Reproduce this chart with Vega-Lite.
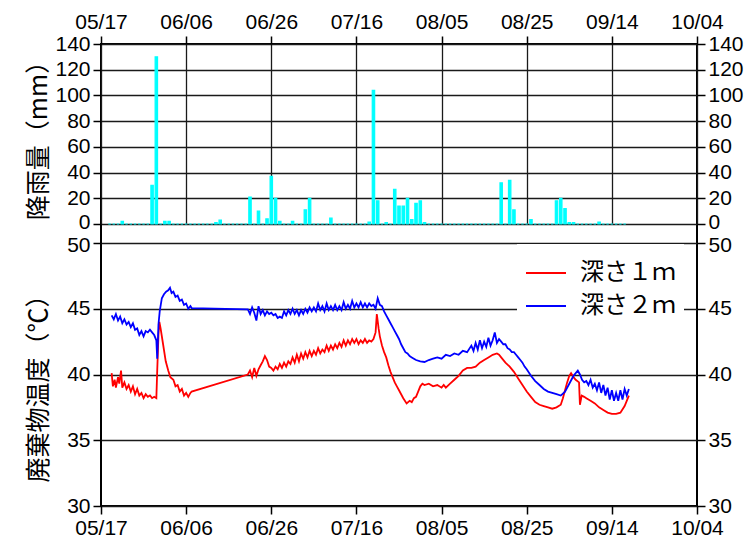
{
 "$schema": "https://vega.github.io/schema/vega-lite/v6.json",
 "width": 596, "height": 462,
 "autosize": "none",
 "padding": {"left": 101, "top": 44, "right": 50, "bottom": 35},
 "background": "white",
 "config": {
  "view": {"stroke": "#000000", "strokeWidth": 2},
  "axis": {"domain": false, "grid": false, "gridColor": "#1a1a1a", "gridWidth": 1.3, "gridOpacity": 1, "tickColor": "#000000", "tickWidth": 1.5, "tickSize": 8, "labelFont": "Liberation Sans", "labelFontSize": 21, "labelColor": "#000000", "labelPadding": 3, "labelOverlap": false, "titleFont": "Noto Sans CJK JP", "titleFontSize": 25, "titleFontWeight": "normal", "titleColor": "#000000"}
 },
 "datasets": {
  "rain": [
   {"d":"2020-05-19","r":0},{"d":"2020-05-20","r":0},{"d":"2020-05-21","r":0},{"d":"2020-05-22","r":2},{"d":"2020-05-23","r":0},{"d":"2020-05-24","r":0},{"d":"2020-05-25","r":0},{"d":"2020-05-26","r":0},{"d":"2020-05-27","r":0},{"d":"2020-05-28","r":0},{"d":"2020-05-29","r":30},{"d":"2020-05-30","r":130},{"d":"2020-05-31","r":0},
   {"d":"2020-06-01","r":2},{"d":"2020-06-02","r":2},{"d":"2020-06-03","r":0},{"d":"2020-06-04","r":0},{"d":"2020-06-05","r":0},{"d":"2020-06-06","r":0},{"d":"2020-06-07","r":0},{"d":"2020-06-08","r":0},{"d":"2020-06-09","r":0},{"d":"2020-06-10","r":0},{"d":"2020-06-11","r":0},{"d":"2020-06-12","r":0},{"d":"2020-06-13","r":1},{"d":"2020-06-14","r":3},{"d":"2020-06-15","r":0},{"d":"2020-06-16","r":0},{"d":"2020-06-17","r":0},{"d":"2020-06-18","r":0},{"d":"2020-06-19","r":0},{"d":"2020-06-20","r":0},{"d":"2020-06-21","r":21},{"d":"2020-06-22","r":0},{"d":"2020-06-23","r":10},{"d":"2020-06-24","r":0},{"d":"2020-06-25","r":4},{"d":"2020-06-26","r":37},{"d":"2020-06-27","r":20},{"d":"2020-06-28","r":2},{"d":"2020-06-29","r":0},{"d":"2020-06-30","r":0},
   {"d":"2020-07-01","r":2},{"d":"2020-07-02","r":0},{"d":"2020-07-03","r":0},{"d":"2020-07-04","r":11},{"d":"2020-07-05","r":20},{"d":"2020-07-06","r":0},{"d":"2020-07-07","r":0},{"d":"2020-07-08","r":0},{"d":"2020-07-09","r":0},{"d":"2020-07-10","r":4.5},{"d":"2020-07-11","r":0},{"d":"2020-07-12","r":0},{"d":"2020-07-13","r":0},{"d":"2020-07-14","r":0},{"d":"2020-07-15","r":0},{"d":"2020-07-16","r":0},{"d":"2020-07-17","r":0},{"d":"2020-07-18","r":0},{"d":"2020-07-19","r":1.5},{"d":"2020-07-20","r":104},{"d":"2020-07-21","r":18},{"d":"2020-07-22","r":0},{"d":"2020-07-23","r":1},{"d":"2020-07-24","r":0},{"d":"2020-07-25","r":27},{"d":"2020-07-26","r":14},{"d":"2020-07-27","r":14},{"d":"2020-07-28","r":20},{"d":"2020-07-29","r":3.5},{"d":"2020-07-30","r":16},{"d":"2020-07-31","r":18},
   {"d":"2020-08-01","r":1},{"d":"2020-08-02","r":0},{"d":"2020-08-03","r":0},{"d":"2020-08-04","r":0},{"d":"2020-08-05","r":0},{"d":"2020-08-06","r":0},{"d":"2020-08-07","r":0},{"d":"2020-08-08","r":0},{"d":"2020-08-09","r":0},{"d":"2020-08-10","r":0},{"d":"2020-08-11","r":0},{"d":"2020-08-12","r":0},{"d":"2020-08-13","r":0},{"d":"2020-08-14","r":0},{"d":"2020-08-15","r":0},{"d":"2020-08-16","r":0},{"d":"2020-08-17","r":0},{"d":"2020-08-18","r":0},{"d":"2020-08-19","r":32},{"d":"2020-08-20","r":0},{"d":"2020-08-21","r":34},{"d":"2020-08-22","r":11},{"d":"2020-08-23","r":0},{"d":"2020-08-24","r":0},{"d":"2020-08-25","r":0},{"d":"2020-08-26","r":3.5},{"d":"2020-08-27","r":0},{"d":"2020-08-28","r":0},{"d":"2020-08-29","r":0},{"d":"2020-08-30","r":0},{"d":"2020-08-31","r":0},
   {"d":"2020-09-01","r":18},{"d":"2020-09-02","r":20},{"d":"2020-09-03","r":12},{"d":"2020-09-04","r":1},{"d":"2020-09-05","r":1},{"d":"2020-09-06","r":0},{"d":"2020-09-07","r":0},{"d":"2020-09-08","r":0},{"d":"2020-09-09","r":0},{"d":"2020-09-10","r":0},{"d":"2020-09-11","r":1.5},{"d":"2020-09-12","r":0},{"d":"2020-09-13","r":0},{"d":"2020-09-14","r":0},{"d":"2020-09-15","r":0},{"d":"2020-09-16","r":0},{"d":"2020-09-17","r":0}
  ],
  "temp": [
   {"s":"深さ１ｍ","t":"2020-05-19T12:00Z","v":40.1},{"s":"深さ１ｍ","t":"2020-05-19T19:00Z","v":39.1},{"s":"深さ１ｍ","t":"2020-05-20T05:00Z","v":39.6},{"s":"深さ１ｍ","t":"2020-05-20T12:00Z","v":39.0},{"s":"深さ１ｍ","t":"2020-05-21T00:00Z","v":39.8},{"s":"深さ１ｍ","t":"2020-05-21T07:00Z","v":39.3},{"s":"深さ１ｍ","t":"2020-05-21T17:00Z","v":40.3},{"s":"深さ１ｍ","t":"2020-05-22T00:00Z","v":39.0},{"s":"深さ１ｍ","t":"2020-05-22T12:00Z","v":39.4},{"s":"深さ１ｍ","t":"2020-05-23T00:00Z","v":38.9},{"s":"深さ１ｍ","t":"2020-05-23T12:00Z","v":39.2},{"s":"深さ１ｍ","t":"2020-05-24T00:00Z","v":38.7},{"s":"深さ１ｍ","t":"2020-05-24T12:00Z","v":39.1},{"s":"深さ１ｍ","t":"2020-05-25T00:00Z","v":38.5},{"s":"深さ１ｍ","t":"2020-05-25T12:00Z","v":38.9},{"s":"深さ１ｍ","t":"2020-05-26T00:00Z","v":38.4},{"s":"深さ１ｍ","t":"2020-05-26T12:00Z","v":38.6},{"s":"深さ１ｍ","t":"2020-05-27T00:00Z","v":38.2},{"s":"深さ１ｍ","t":"2020-05-27T12:00Z","v":38.5},{"s":"深さ１ｍ","t":"2020-05-28T00:00Z","v":38.3},{"s":"深さ１ｍ","t":"2020-05-28T12:00Z","v":38.4},{"s":"深さ１ｍ","t":"2020-05-29T00:00Z","v":38.2},{"s":"深さ１ｍ","t":"2020-05-29T12:00Z","v":38.3},{"s":"深さ１ｍ","t":"2020-05-30T00:00Z","v":38.2},{"s":"深さ１ｍ","t":"2020-05-30T05:00Z","v":40.3},{"s":"深さ１ｍ","t":"2020-05-30T12:00Z","v":43.0},{"s":"深さ１ｍ","t":"2020-05-30T17:00Z","v":44.0},{"s":"深さ１ｍ","t":"2020-05-31T00:00Z","v":43.5},{"s":"深さ１ｍ","t":"2020-05-31T14:00Z","v":42.3},{"s":"深さ１ｍ","t":"2020-06-01T05:00Z","v":41.0},{"s":"深さ１ｍ","t":"2020-06-01T19:00Z","v":40.3},{"s":"深さ１ｍ","t":"2020-06-02T07:00Z","v":39.8},{"s":"深さ１ｍ","t":"2020-06-03T00:00Z","v":39.6},{"s":"深さ１ｍ","t":"2020-06-03T12:00Z","v":39.1},{"s":"深さ１ｍ","t":"2020-06-04T00:00Z","v":39.2},{"s":"深さ１ｍ","t":"2020-06-04T12:00Z","v":38.7},{"s":"深さ１ｍ","t":"2020-06-05T00:00Z","v":38.9},{"s":"深さ１ｍ","t":"2020-06-05T12:00Z","v":38.4},{"s":"深さ１ｍ","t":"2020-06-06T00:00Z","v":38.6},{"s":"深さ１ｍ","t":"2020-06-06T12:00Z","v":38.3},{"s":"深さ１ｍ","t":"2020-06-07T00:00Z","v":38.6},{"s":"深さ１ｍ","t":"2020-06-07T07:00Z","v":38.7},
   {"s":"深さ１ｍ","t":"2020-06-20T12:00Z","v":40.0},{"s":"深さ１ｍ","t":"2020-06-21T00:00Z","v":40.3},{"s":"深さ１ｍ","t":"2020-06-21T12:00Z","v":39.8},{"s":"深さ１ｍ","t":"2020-06-22T00:00Z","v":40.5},{"s":"深さ１ｍ","t":"2020-06-22T12:00Z","v":39.9},{"s":"深さ１ｍ","t":"2020-06-23T00:00Z","v":40.4},{"s":"深さ１ｍ","t":"2020-06-23T12:00Z","v":40.7},{"s":"深さ１ｍ","t":"2020-06-24T00:00Z","v":41.0},{"s":"深さ１ｍ","t":"2020-06-24T12:00Z","v":41.4},{"s":"深さ１ｍ","t":"2020-06-25T00:00Z","v":41.1},{"s":"深さ１ｍ","t":"2020-06-25T12:00Z","v":40.6},{"s":"深さ１ｍ","t":"2020-06-26T00:00Z","v":40.5},{"s":"深さ１ｍ","t":"2020-06-26T12:00Z","v":40.3},{"s":"深さ１ｍ","t":"2020-06-27T00:00Z","v":40.6},{"s":"深さ１ｍ","t":"2020-06-27T12:00Z","v":40.4},{"s":"深さ１ｍ","t":"2020-06-28T00:00Z","v":40.8},{"s":"深さ１ｍ","t":"2020-06-28T12:00Z","v":40.5},{"s":"深さ１ｍ","t":"2020-06-29T00:00Z","v":40.9},{"s":"深さ１ｍ","t":"2020-06-29T12:00Z","v":40.6},{"s":"深さ１ｍ","t":"2020-06-30T00:00Z","v":41.0},{"s":"深さ１ｍ","t":"2020-06-30T12:00Z","v":40.8},
   {"s":"深さ１ｍ","t":"2020-07-01T00:00Z","v":41.3},{"s":"深さ１ｍ","t":"2020-07-01T12:00Z","v":40.9},{"s":"深さ１ｍ","t":"2020-07-02T00:00Z","v":41.5},{"s":"深さ１ｍ","t":"2020-07-02T12:00Z","v":41.0},{"s":"深さ１ｍ","t":"2020-07-03T00:00Z","v":41.6},{"s":"深さ１ｍ","t":"2020-07-03T12:00Z","v":41.2},{"s":"深さ１ｍ","t":"2020-07-04T00:00Z","v":41.7},{"s":"深さ１ｍ","t":"2020-07-04T12:00Z","v":41.3},{"s":"深さ１ｍ","t":"2020-07-05T00:00Z","v":41.8},{"s":"深さ１ｍ","t":"2020-07-05T12:00Z","v":41.4},{"s":"深さ１ｍ","t":"2020-07-06T00:00Z","v":41.8},{"s":"深さ１ｍ","t":"2020-07-06T12:00Z","v":41.5},{"s":"深さ１ｍ","t":"2020-07-07T00:00Z","v":42.0},{"s":"深さ１ｍ","t":"2020-07-07T12:00Z","v":41.6},{"s":"深さ１ｍ","t":"2020-07-08T00:00Z","v":41.9},{"s":"深さ１ｍ","t":"2020-07-08T12:00Z","v":41.7},{"s":"深さ１ｍ","t":"2020-07-09T00:00Z","v":42.2},{"s":"深さ１ｍ","t":"2020-07-09T12:00Z","v":41.8},{"s":"深さ１ｍ","t":"2020-07-10T00:00Z","v":42.2},{"s":"深さ１ｍ","t":"2020-07-10T12:00Z","v":41.9},{"s":"深さ１ｍ","t":"2020-07-11T00:00Z","v":42.3},{"s":"深さ１ｍ","t":"2020-07-11T12:00Z","v":42.0},{"s":"深さ１ｍ","t":"2020-07-12T00:00Z","v":42.4},{"s":"深さ１ｍ","t":"2020-07-12T12:00Z","v":42.1},{"s":"深さ１ｍ","t":"2020-07-13T00:00Z","v":42.6},{"s":"深さ１ｍ","t":"2020-07-13T12:00Z","v":42.2},{"s":"深さ１ｍ","t":"2020-07-14T00:00Z","v":42.6},{"s":"深さ１ｍ","t":"2020-07-14T12:00Z","v":42.3},{"s":"深さ１ｍ","t":"2020-07-15T00:00Z","v":42.7},{"s":"深さ１ｍ","t":"2020-07-15T12:00Z","v":42.4},{"s":"深さ１ｍ","t":"2020-07-16T00:00Z","v":42.7},{"s":"深さ１ｍ","t":"2020-07-16T12:00Z","v":42.3},{"s":"深さ１ｍ","t":"2020-07-17T00:00Z","v":42.6},{"s":"深さ１ｍ","t":"2020-07-17T12:00Z","v":42.4},{"s":"深さ１ｍ","t":"2020-07-18T00:00Z","v":42.7},{"s":"深さ１ｍ","t":"2020-07-18T12:00Z","v":42.4},{"s":"深さ１ｍ","t":"2020-07-19T00:00Z","v":42.6},{"s":"深さ１ｍ","t":"2020-07-19T12:00Z","v":42.5},{"s":"深さ１ｍ","t":"2020-07-20T00:00Z","v":42.7},{"s":"深さ１ｍ","t":"2020-07-20T12:00Z","v":43.2},{"s":"深さ１ｍ","t":"2020-07-20T19:00Z","v":44.6},{"s":"深さ１ｍ","t":"2020-07-21T05:00Z","v":43.5},{"s":"深さ１ｍ","t":"2020-07-21T12:00Z","v":42.9},{"s":"深さ１ｍ","t":"2020-07-22T00:00Z","v":42.2},{"s":"深さ１ｍ","t":"2020-07-22T12:00Z","v":41.7},{"s":"深さ１ｍ","t":"2020-07-23T00:00Z","v":41.3},{"s":"深さ１ｍ","t":"2020-07-23T12:00Z","v":40.7},{"s":"深さ１ｍ","t":"2020-07-24T00:00Z","v":40.2},{"s":"深さ１ｍ","t":"2020-07-24T12:00Z","v":39.8},{"s":"深さ１ｍ","t":"2020-07-25T00:00Z","v":39.4},{"s":"深さ１ｍ","t":"2020-07-25T12:00Z","v":39.1},{"s":"深さ１ｍ","t":"2020-07-26T00:00Z","v":38.8},{"s":"深さ１ｍ","t":"2020-07-26T12:00Z","v":38.5},{"s":"深さ１ｍ","t":"2020-07-27T00:00Z","v":38.2},{"s":"深さ１ｍ","t":"2020-07-27T19:00Z","v":37.8},{"s":"深さ１ｍ","t":"2020-07-28T12:00Z","v":38.0},{"s":"深さ１ｍ","t":"2020-07-29T00:00Z","v":37.9},{"s":"深さ１ｍ","t":"2020-07-29T12:00Z","v":38.2},{"s":"深さ１ｍ","t":"2020-07-30T00:00Z","v":38.3},{"s":"深さ１ｍ","t":"2020-07-30T12:00Z","v":38.7},{"s":"深さ１ｍ","t":"2020-07-31T00:00Z","v":39.1},{"s":"深さ１ｍ","t":"2020-07-31T12:00Z","v":39.3},
   {"s":"深さ１ｍ","t":"2020-08-01T00:00Z","v":39.2},{"s":"深さ１ｍ","t":"2020-08-02T00:00Z","v":39.3},{"s":"深さ１ｍ","t":"2020-08-03T00:00Z","v":39.1},{"s":"深さ１ｍ","t":"2020-08-04T00:00Z","v":39.2},{"s":"深さ１ｍ","t":"2020-08-05T00:00Z","v":39.0},{"s":"深さ１ｍ","t":"2020-08-05T12:00Z","v":39.2},{"s":"深さ１ｍ","t":"2020-08-06T00:00Z","v":39.0},{"s":"深さ１ｍ","t":"2020-08-07T00:00Z","v":39.3},{"s":"深さ１ｍ","t":"2020-08-08T00:00Z","v":39.6},{"s":"深さ１ｍ","t":"2020-08-09T00:00Z","v":39.9},{"s":"深さ１ｍ","t":"2020-08-10T00:00Z","v":40.3},{"s":"深さ１ｍ","t":"2020-08-11T00:00Z","v":40.5},{"s":"深さ１ｍ","t":"2020-08-12T00:00Z","v":40.5},{"s":"深さ１ｍ","t":"2020-08-13T00:00Z","v":40.6},{"s":"深さ１ｍ","t":"2020-08-14T00:00Z","v":40.9},{"s":"深さ１ｍ","t":"2020-08-15T00:00Z","v":41.1},{"s":"深さ１ｍ","t":"2020-08-16T00:00Z","v":41.3},{"s":"深さ１ｍ","t":"2020-08-17T00:00Z","v":41.5},{"s":"深さ１ｍ","t":"2020-08-18T00:00Z","v":41.6},{"s":"深さ１ｍ","t":"2020-08-18T12:00Z","v":41.5},{"s":"深さ１ｍ","t":"2020-08-19T00:00Z","v":41.3},{"s":"深さ１ｍ","t":"2020-08-20T00:00Z","v":40.9},{"s":"深さ１ｍ","t":"2020-08-21T00:00Z","v":40.6},{"s":"深さ１ｍ","t":"2020-08-22T00:00Z","v":40.2},{"s":"深さ１ｍ","t":"2020-08-23T00:00Z","v":39.7},{"s":"深さ１ｍ","t":"2020-08-24T00:00Z","v":39.2},{"s":"深さ１ｍ","t":"2020-08-25T00:00Z","v":38.7},{"s":"深さ１ｍ","t":"2020-08-26T00:00Z","v":38.3},{"s":"深さ１ｍ","t":"2020-08-27T00:00Z","v":37.9},{"s":"深さ１ｍ","t":"2020-08-28T00:00Z","v":37.7},{"s":"深さ１ｍ","t":"2020-08-29T00:00Z","v":37.6},{"s":"深さ１ｍ","t":"2020-08-30T00:00Z","v":37.5},{"s":"深さ１ｍ","t":"2020-08-31T00:00Z","v":37.4},
   {"s":"深さ１ｍ","t":"2020-09-01T00:00Z","v":37.5},{"s":"深さ１ｍ","t":"2020-09-02T00:00Z","v":37.7},{"s":"深さ１ｍ","t":"2020-09-02T12:00Z","v":38.2},{"s":"深さ１ｍ","t":"2020-09-03T00:00Z","v":38.8},{"s":"深さ１ｍ","t":"2020-09-03T12:00Z","v":39.4},{"s":"深さ１ｍ","t":"2020-09-04T00:00Z","v":39.9},{"s":"深さ１ｍ","t":"2020-09-04T10:00Z","v":40.1},{"s":"深さ１ｍ","t":"2020-09-05T00:00Z","v":39.8},{"s":"深さ１ｍ","t":"2020-09-05T12:00Z","v":39.6},{"s":"深さ１ｍ","t":"2020-09-06T07:00Z","v":39.4},{"s":"深さ１ｍ","t":"2020-09-06T12:00Z","v":37.7},{"s":"深さ１ｍ","t":"2020-09-06T22:00Z","v":38.4},{"s":"深さ１ｍ","t":"2020-09-07T12:00Z","v":38.3},{"s":"深さ１ｍ","t":"2020-09-08T00:00Z","v":38.2},{"s":"深さ１ｍ","t":"2020-09-09T00:00Z","v":38.0},{"s":"深さ１ｍ","t":"2020-09-10T00:00Z","v":37.8},{"s":"深さ１ｍ","t":"2020-09-11T00:00Z","v":37.5},{"s":"深さ１ｍ","t":"2020-09-12T00:00Z","v":37.3},{"s":"深さ１ｍ","t":"2020-09-13T00:00Z","v":37.1},{"s":"深さ１ｍ","t":"2020-09-14T00:00Z","v":37.0},{"s":"深さ１ｍ","t":"2020-09-15T00:00Z","v":37.0},{"s":"深さ１ｍ","t":"2020-09-16T00:00Z","v":37.1},{"s":"深さ１ｍ","t":"2020-09-17T00:00Z","v":37.6},{"s":"深さ１ｍ","t":"2020-09-17T12:00Z","v":38.0},{"s":"深さ１ｍ","t":"2020-09-18T00:00Z","v":38.4},
   {"s":"深さ２ｍ","t":"2020-05-19T12:00Z","v":44.5},{"s":"深さ２ｍ","t":"2020-05-20T00:00Z","v":44.2},{"s":"深さ２ｍ","t":"2020-05-20T12:00Z","v":44.6},{"s":"深さ２ｍ","t":"2020-05-21T00:00Z","v":44.1},{"s":"深さ２ｍ","t":"2020-05-21T12:00Z","v":44.4},{"s":"深さ２ｍ","t":"2020-05-22T00:00Z","v":43.9},{"s":"深さ２ｍ","t":"2020-05-22T12:00Z","v":44.2},{"s":"深さ２ｍ","t":"2020-05-23T00:00Z","v":43.8},{"s":"深さ２ｍ","t":"2020-05-23T12:00Z","v":44.0},{"s":"深さ２ｍ","t":"2020-05-24T00:00Z","v":43.6},{"s":"深さ２ｍ","t":"2020-05-24T12:00Z","v":43.9},{"s":"深さ２ｍ","t":"2020-05-25T00:00Z","v":43.4},{"s":"深さ２ｍ","t":"2020-05-25T12:00Z","v":43.5},{"s":"深さ２ｍ","t":"2020-05-26T00:00Z","v":43.0},{"s":"深さ２ｍ","t":"2020-05-26T12:00Z","v":43.3},{"s":"深さ２ｍ","t":"2020-05-27T00:00Z","v":42.9},{"s":"深さ２ｍ","t":"2020-05-27T12:00Z","v":43.3},{"s":"深さ２ｍ","t":"2020-05-28T00:00Z","v":43.2},{"s":"深さ２ｍ","t":"2020-05-28T12:00Z","v":43.4},{"s":"深さ２ｍ","t":"2020-05-29T00:00Z","v":43.2},{"s":"深さ２ｍ","t":"2020-05-29T12:00Z","v":43.0},{"s":"深さ２ｍ","t":"2020-05-30T00:00Z","v":42.6},{"s":"深さ２ｍ","t":"2020-05-30T05:00Z","v":41.2},{"s":"深さ２ｍ","t":"2020-05-30T12:00Z","v":43.8},{"s":"深さ２ｍ","t":"2020-05-30T19:00Z","v":44.8},{"s":"深さ２ｍ","t":"2020-05-31T07:00Z","v":45.8},{"s":"深さ２ｍ","t":"2020-05-31T19:00Z","v":46.1},{"s":"深さ２ｍ","t":"2020-06-01T07:00Z","v":46.3},{"s":"深さ２ｍ","t":"2020-06-01T19:00Z","v":46.4},{"s":"深さ２ｍ","t":"2020-06-02T05:00Z","v":46.6},{"s":"深さ２ｍ","t":"2020-06-02T14:00Z","v":46.2},{"s":"深さ２ｍ","t":"2020-06-03T00:00Z","v":46.3},{"s":"深さ２ｍ","t":"2020-06-03T12:00Z","v":45.9},{"s":"深さ２ｍ","t":"2020-06-04T00:00Z","v":46.0},{"s":"深さ２ｍ","t":"2020-06-04T12:00Z","v":45.6},{"s":"深さ２ｍ","t":"2020-06-05T00:00Z","v":45.7},{"s":"深さ２ｍ","t":"2020-06-05T12:00Z","v":45.3},{"s":"深さ２ｍ","t":"2020-06-06T00:00Z","v":45.4},{"s":"深さ２ｍ","t":"2020-06-06T12:00Z","v":45.0},{"s":"深さ２ｍ","t":"2020-06-07T00:00Z","v":45.2},{"s":"深さ２ｍ","t":"2020-06-07T07:00Z","v":45.05},
   {"s":"深さ２ｍ","t":"2020-06-20T12:00Z","v":44.95},{"s":"深さ２ｍ","t":"2020-06-21T00:00Z","v":44.6},{"s":"深さ２ｍ","t":"2020-06-21T12:00Z","v":45.1},{"s":"深さ２ｍ","t":"2020-06-22T00:00Z","v":44.7},{"s":"深さ２ｍ","t":"2020-06-22T12:00Z","v":44.1},{"s":"深さ２ｍ","t":"2020-06-23T00:00Z","v":45.2},{"s":"深さ２ｍ","t":"2020-06-23T12:00Z","v":44.6},{"s":"深さ２ｍ","t":"2020-06-24T00:00Z","v":44.9},{"s":"深さ２ｍ","t":"2020-06-24T12:00Z","v":44.5},{"s":"深さ２ｍ","t":"2020-06-25T00:00Z","v":44.8},{"s":"深さ２ｍ","t":"2020-06-25T12:00Z","v":44.6},{"s":"深さ２ｍ","t":"2020-06-26T00:00Z","v":44.7},{"s":"深さ２ｍ","t":"2020-06-26T12:00Z","v":44.5},{"s":"深さ２ｍ","t":"2020-06-27T00:00Z","v":44.6},{"s":"深さ２ｍ","t":"2020-06-27T12:00Z","v":44.3},{"s":"深さ２ｍ","t":"2020-06-28T00:00Z","v":44.4},{"s":"深さ２ｍ","t":"2020-06-28T12:00Z","v":44.3},{"s":"深さ２ｍ","t":"2020-06-29T00:00Z","v":44.8},{"s":"深さ２ｍ","t":"2020-06-29T12:00Z","v":44.5},{"s":"深さ２ｍ","t":"2020-06-30T00:00Z","v":44.9},{"s":"深さ２ｍ","t":"2020-06-30T12:00Z","v":44.6},
   {"s":"深さ２ｍ","t":"2020-07-01T00:00Z","v":45.0},{"s":"深さ２ｍ","t":"2020-07-01T12:00Z","v":44.6},{"s":"深さ２ｍ","t":"2020-07-02T00:00Z","v":44.9},{"s":"深さ２ｍ","t":"2020-07-02T12:00Z","v":44.5},{"s":"深さ２ｍ","t":"2020-07-03T00:00Z","v":44.9},{"s":"深さ２ｍ","t":"2020-07-03T12:00Z","v":44.6},{"s":"深さ２ｍ","t":"2020-07-04T00:00Z","v":45.0},{"s":"深さ２ｍ","t":"2020-07-04T12:00Z","v":44.7},{"s":"深さ２ｍ","t":"2020-07-05T00:00Z","v":45.1},{"s":"深さ２ｍ","t":"2020-07-05T12:00Z","v":44.8},{"s":"深さ２ｍ","t":"2020-07-06T00:00Z","v":45.1},{"s":"深さ２ｍ","t":"2020-07-06T12:00Z","v":44.8},{"s":"深さ２ｍ","t":"2020-07-07T00:00Z","v":45.4},{"s":"深さ２ｍ","t":"2020-07-07T12:00Z","v":44.9},{"s":"深さ２ｍ","t":"2020-07-08T00:00Z","v":45.2},{"s":"深さ２ｍ","t":"2020-07-08T12:00Z","v":44.8},{"s":"深さ２ｍ","t":"2020-07-09T00:00Z","v":45.4},{"s":"深さ２ｍ","t":"2020-07-09T12:00Z","v":44.9},{"s":"深さ２ｍ","t":"2020-07-10T00:00Z","v":45.2},{"s":"深さ２ｍ","t":"2020-07-10T12:00Z","v":44.9},{"s":"深さ２ｍ","t":"2020-07-11T00:00Z","v":45.3},{"s":"深さ２ｍ","t":"2020-07-11T12:00Z","v":44.9},{"s":"深さ２ｍ","t":"2020-07-12T00:00Z","v":45.2},{"s":"深さ２ｍ","t":"2020-07-12T12:00Z","v":44.9},{"s":"深さ２ｍ","t":"2020-07-13T00:00Z","v":45.5},{"s":"深さ２ｍ","t":"2020-07-13T12:00Z","v":45.0},{"s":"深さ２ｍ","t":"2020-07-14T00:00Z","v":45.3},{"s":"深さ２ｍ","t":"2020-07-14T12:00Z","v":45.0},{"s":"深さ２ｍ","t":"2020-07-15T00:00Z","v":45.6},{"s":"深さ２ｍ","t":"2020-07-15T12:00Z","v":45.1},{"s":"深さ２ｍ","t":"2020-07-16T00:00Z","v":45.4},{"s":"深さ２ｍ","t":"2020-07-16T12:00Z","v":45.1},{"s":"深さ２ｍ","t":"2020-07-17T00:00Z","v":45.5},{"s":"深さ２ｍ","t":"2020-07-17T12:00Z","v":45.1},{"s":"深さ２ｍ","t":"2020-07-18T00:00Z","v":45.4},{"s":"深さ２ｍ","t":"2020-07-18T12:00Z","v":45.1},{"s":"深さ２ｍ","t":"2020-07-19T00:00Z","v":45.4},{"s":"深さ２ｍ","t":"2020-07-19T12:00Z","v":45.2},{"s":"深さ２ｍ","t":"2020-07-20T00:00Z","v":45.3},{"s":"深さ２ｍ","t":"2020-07-20T12:00Z","v":45.0},{"s":"深さ２ｍ","t":"2020-07-21T00:00Z","v":45.8},{"s":"深さ２ｍ","t":"2020-07-21T12:00Z","v":45.3},{"s":"深さ２ｍ","t":"2020-07-22T00:00Z","v":45.2},{"s":"深さ２ｍ","t":"2020-07-22T12:00Z","v":44.8},{"s":"深さ２ｍ","t":"2020-07-23T00:00Z","v":44.5},{"s":"深さ２ｍ","t":"2020-07-23T12:00Z","v":44.2},{"s":"深さ２ｍ","t":"2020-07-24T00:00Z","v":43.9},{"s":"深さ２ｍ","t":"2020-07-24T12:00Z","v":43.6},{"s":"深さ２ｍ","t":"2020-07-25T00:00Z","v":43.3},{"s":"深さ２ｍ","t":"2020-07-25T12:00Z","v":43.0},{"s":"深さ２ｍ","t":"2020-07-26T00:00Z","v":42.7},{"s":"深さ２ｍ","t":"2020-07-26T12:00Z","v":42.3},{"s":"深さ２ｍ","t":"2020-07-27T00:00Z","v":42.0},{"s":"深さ２ｍ","t":"2020-07-27T12:00Z","v":41.7},{"s":"深さ２ｍ","t":"2020-07-28T00:00Z","v":41.6},{"s":"深さ２ｍ","t":"2020-07-28T12:00Z","v":41.4},{"s":"深さ２ｍ","t":"2020-07-29T00:00Z","v":41.3},{"s":"深さ２ｍ","t":"2020-07-29T12:00Z","v":41.2},{"s":"深さ２ｍ","t":"2020-07-30T00:00Z","v":41.1},{"s":"深さ２ｍ","t":"2020-07-31T00:00Z","v":41.0},
   {"s":"深さ２ｍ","t":"2020-08-01T00:00Z","v":40.95},{"s":"深さ２ｍ","t":"2020-08-02T00:00Z","v":41.1},{"s":"深さ２ｍ","t":"2020-08-03T00:00Z","v":41.2},{"s":"深さ２ｍ","t":"2020-08-04T00:00Z","v":41.3},{"s":"深さ２ｍ","t":"2020-08-05T00:00Z","v":41.2},{"s":"深さ２ｍ","t":"2020-08-06T00:00Z","v":41.5},{"s":"深さ２ｍ","t":"2020-08-07T00:00Z","v":41.4},{"s":"深さ２ｍ","t":"2020-08-08T00:00Z","v":41.6},{"s":"深さ２ｍ","t":"2020-08-09T00:00Z","v":41.5},{"s":"深さ２ｍ","t":"2020-08-10T00:00Z","v":41.8},{"s":"深さ２ｍ","t":"2020-08-11T00:00Z","v":41.7},{"s":"深さ２ｍ","t":"2020-08-12T00:00Z","v":42.2},{"s":"深さ２ｍ","t":"2020-08-12T12:00Z","v":41.8},{"s":"深さ２ｍ","t":"2020-08-13T00:00Z","v":42.4},{"s":"深さ２ｍ","t":"2020-08-13T12:00Z","v":41.9},{"s":"深さ２ｍ","t":"2020-08-14T00:00Z","v":42.6},{"s":"深さ２ｍ","t":"2020-08-14T12:00Z","v":42.0},{"s":"深さ２ｍ","t":"2020-08-15T00:00Z","v":42.5},{"s":"深さ２ｍ","t":"2020-08-15T12:00Z","v":42.1},{"s":"深さ２ｍ","t":"2020-08-16T00:00Z","v":42.8},{"s":"深さ２ｍ","t":"2020-08-16T12:00Z","v":42.2},{"s":"深さ２ｍ","t":"2020-08-17T00:00Z","v":42.6},{"s":"深さ２ｍ","t":"2020-08-17T12:00Z","v":43.2},{"s":"深さ２ｍ","t":"2020-08-18T00:00Z","v":42.4},{"s":"深さ２ｍ","t":"2020-08-18T12:00Z","v":42.7},{"s":"深さ２ｍ","t":"2020-08-19T00:00Z","v":42.5},{"s":"深さ２ｍ","t":"2020-08-19T12:00Z","v":42.3},{"s":"深さ２ｍ","t":"2020-08-20T00:00Z","v":42.3},{"s":"深さ２ｍ","t":"2020-08-20T12:00Z","v":42.0},{"s":"深さ２ｍ","t":"2020-08-21T00:00Z","v":41.9},{"s":"深さ２ｍ","t":"2020-08-21T12:00Z","v":41.7},{"s":"深さ２ｍ","t":"2020-08-22T00:00Z","v":41.7},{"s":"深さ２ｍ","t":"2020-08-22T12:00Z","v":41.5},{"s":"深さ２ｍ","t":"2020-08-23T00:00Z","v":41.3},{"s":"深さ２ｍ","t":"2020-08-23T12:00Z","v":41.1},{"s":"深さ２ｍ","t":"2020-08-24T00:00Z","v":40.9},{"s":"深さ２ｍ","t":"2020-08-24T12:00Z","v":40.6},{"s":"深さ２ｍ","t":"2020-08-25T00:00Z","v":40.4},{"s":"深さ２ｍ","t":"2020-08-26T00:00Z","v":39.9},{"s":"深さ２ｍ","t":"2020-08-27T00:00Z","v":39.5},{"s":"深さ２ｍ","t":"2020-08-28T00:00Z","v":39.2},{"s":"深さ２ｍ","t":"2020-08-29T00:00Z","v":38.9},{"s":"深さ２ｍ","t":"2020-08-30T00:00Z","v":38.7},{"s":"深さ２ｍ","t":"2020-08-31T00:00Z","v":38.6},
   {"s":"深さ２ｍ","t":"2020-09-01T00:00Z","v":38.5},{"s":"深さ２ｍ","t":"2020-09-02T00:00Z","v":38.4},{"s":"深さ２ｍ","t":"2020-09-03T00:00Z","v":38.7},{"s":"深さ２ｍ","t":"2020-09-04T00:00Z","v":39.3},{"s":"深さ２ｍ","t":"2020-09-05T00:00Z","v":39.9},{"s":"深さ２ｍ","t":"2020-09-06T00:00Z","v":40.3},{"s":"深さ２ｍ","t":"2020-09-06T12:00Z","v":40.0},{"s":"深さ２ｍ","t":"2020-09-07T00:00Z","v":39.6},{"s":"深さ２ｍ","t":"2020-09-07T12:00Z","v":39.4},{"s":"深さ２ｍ","t":"2020-09-08T00:00Z","v":39.5},{"s":"深さ２ｍ","t":"2020-09-08T12:00Z","v":39.2},{"s":"深さ２ｍ","t":"2020-09-09T00:00Z","v":39.6},{"s":"深さ２ｍ","t":"2020-09-09T12:00Z","v":39.0},{"s":"深さ２ｍ","t":"2020-09-10T00:00Z","v":39.3},{"s":"深さ２ｍ","t":"2020-09-10T12:00Z","v":38.8},{"s":"深さ２ｍ","t":"2020-09-11T00:00Z","v":39.4},{"s":"深さ２ｍ","t":"2020-09-11T12:00Z","v":38.6},{"s":"深さ２ｍ","t":"2020-09-12T00:00Z","v":39.2},{"s":"深さ２ｍ","t":"2020-09-12T12:00Z","v":38.4},{"s":"深さ２ｍ","t":"2020-09-13T00:00Z","v":39.0},{"s":"深さ２ｍ","t":"2020-09-13T12:00Z","v":38.1},{"s":"深さ２ｍ","t":"2020-09-14T00:00Z","v":38.8},{"s":"深さ２ｍ","t":"2020-09-14T12:00Z","v":38.0},{"s":"深さ２ｍ","t":"2020-09-15T00:00Z","v":38.6},{"s":"深さ２ｍ","t":"2020-09-15T12:00Z","v":38.0},{"s":"深さ２ｍ","t":"2020-09-16T00:00Z","v":38.8},{"s":"深さ２ｍ","t":"2020-09-16T12:00Z","v":38.1},{"s":"深さ２ｍ","t":"2020-09-17T00:00Z","v":38.9},{"s":"深さ２ｍ","t":"2020-09-17T12:00Z","v":38.4},{"s":"深さ２ｍ","t":"2020-09-18T00:00Z","v":38.9}
  ]
 },
 "resolve": {"scale": {"y": "independent"}, "axis": {"x": "independent", "y": "independent"}},
 "layer": [
  {
   "data": {"name": "rain"},
   "mark": {"type": "bar", "color": "#00ffff", "stroke": "#00ffff", "strokeWidth": 1.2, "width": 2.4},
   "encoding": {
    "x": {"field": "d", "type": "temporal",
     "scale": {"type": "utc", "nice": false, "padding": 0, "domain": [{"year":2020,"month":5,"date":17,"utc":true},{"year":2020,"month":10,"date":4,"utc":true}]},
     "axis": {"orient": "top", "title": null, "grid": true, "labelFlush": false, "labelExpr": "utcFormat(datum.value, '%m/%d')", "labelPadding": 4,
      "values": [{"year":2020,"month":5,"date":17,"utc":true},{"year":2020,"month":6,"date":6,"utc":true},{"year":2020,"month":6,"date":26,"utc":true},{"year":2020,"month":7,"date":16,"utc":true},{"year":2020,"month":8,"date":5,"utc":true},{"year":2020,"month":8,"date":25,"utc":true},{"year":2020,"month":9,"date":14,"utc":true},{"year":2020,"month":10,"date":4,"utc":true}]}},
    "y": {"field": "r", "type": "quantitative",
     "scale": {"domain": [0, 140], "range": [180, 0], "nice": false},
     "axis": {"orient": "left", "grid": true, "values": [0,20,40,60,80,100,120,140], "labelOffset": {"condition": {"test": "datum.value == 0", "value": -2}, "value": 0}, "title": "降雨量（mm）", "titleX": -63, "titleY": 90, "titleBaseline": "middle", "titleAngle": -90}}
   }
  },
  {
   "data": {"name": "rain"},
   "mark": {"type": "bar", "opacity": 0, "width": 2.4},
   "encoding": {
    "x": {"field": "d", "type": "temporal", "axis": null},
    "y": {"field": "r", "type": "quantitative",
     "scale": {"domain": [0, 140], "range": [180, 0], "nice": false},
     "axis": {"orient": "right", "grid": false, "values": [0,20,40,60,80,100,120,140], "labelOffset": {"condition": {"test": "datum.value == 0", "value": -2}, "value": 0}, "title": null}}
   }
  },
  {
   "data": {"name": "temp"},
   "mark": {"type": "line", "strokeWidth": 1.8},
   "encoding": {
    "x": {"field": "t", "type": "temporal",
     "axis": {"orient": "bottom", "title": null, "grid": false, "labelFlush": false, "labelExpr": "utcFormat(datum.value, '%m/%d')", "labelPadding": 3,
      "values": [{"year":2020,"month":5,"date":17,"utc":true},{"year":2020,"month":6,"date":6,"utc":true},{"year":2020,"month":6,"date":26,"utc":true},{"year":2020,"month":7,"date":16,"utc":true},{"year":2020,"month":8,"date":5,"utc":true},{"year":2020,"month":8,"date":25,"utc":true},{"year":2020,"month":9,"date":14,"utc":true},{"year":2020,"month":10,"date":4,"utc":true}]}},
    "y": {"field": "v", "type": "quantitative",
     "scale": {"domain": [30, 50], "range": [462, 199], "nice": false, "zero": false},
     "axis": {"orient": "left", "grid": true, "values": [30,35,40,45,50], "labelOffset": {"condition": {"test": "datum.value == 50", "value": 2}, "value": 0}, "title": "廃棄物温度（℃）", "titleX": -63, "titleY": 338, "titleBaseline": "middle", "titleAngle": -90}},
    "color": {"field": "s", "type": "nominal",
     "scale": {"domain": ["深さ１ｍ", "深さ２ｍ"], "range": ["#ff0000", "#0000ff"]},
     "legend": {"title": null, "orient": "none", "legendX": 416, "legendY": 200, "fillColor": "#ffffff", "padding": 8, "symbolType": "stroke", "symbolSize": 1600, "symbolStrokeWidth": 2, "labelFont": "Noto Sans CJK JP", "labelFontSize": 24, "labelColor": "#000000", "labelOffset": 13, "rowPadding": -6, "labelLimit": 300}}
   }
  },
  {
   "data": {"name": "temp"},
   "mark": {"type": "line", "opacity": 0},
   "encoding": {
    "x": {"field": "t", "type": "temporal", "axis": null},
    "y": {"field": "v", "type": "quantitative",
     "scale": {"domain": [30, 50], "range": [462, 199], "nice": false, "zero": false},
     "axis": {"orient": "right", "grid": false, "values": [30,35,40,45,50], "labelOffset": {"condition": {"test": "datum.value == 50", "value": 2}, "value": 0}, "title": null}}
   }
  }
 ]
}
